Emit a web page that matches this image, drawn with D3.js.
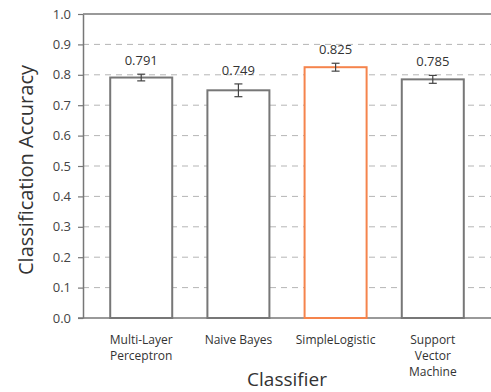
<!DOCTYPE html>
<html>
<head>
<meta charset="utf-8">
<script src="https://cdn.jsdelivr.net/npm/d3@7"></script>
<style>
  body { margin: 0; background: #fff; }
  text { font-family: "Open Sans", "Noto Sans", sans-serif; }
</style>
</head>
<body>
<div id="chart"></div>
<script>
// chart data
const classifiers = ["Multi-Layer Perceptron", "Naive Bayes", "SimpleLogistic", "Support Vector Machine"];
const tickLines = [["Multi-Layer", "Perceptron"], ["Naive Bayes"], ["SimpleLogistic"], ["Support", "Vector", "Machine"]];
const accuracy = [0.791, 0.749, 0.825, 0.785];
const errors = [0.011, 0.021, 0.013, 0.013];
const highlight = "SimpleLogistic";
const yTicks = [0.0, 0.1, 0.2, 0.3, 0.4, 0.5, 0.6, 0.7, 0.8, 0.9, 1.0];

const width = 491, height = 392;
const margin = { top: 14, right: 0, bottom: 74, left: 83 };

const svg = d3.select("#chart").append("svg")
    .attr("width", width)
    .attr("height", height);

const x = d3.scaleBand()
    .domain(classifiers)
    .range([margin.left, width - margin.right])
    .paddingInner(0.362)
    .paddingOuter(0.28);

const y = d3.scaleLinear()
    .domain([0, 1])
    .range([height - margin.bottom, margin.top]);

// dashed grid lines
svg.append("g")
    .selectAll("line")
    .data(yTicks.filter(t => t > 0 && t < 1))
    .enter().append("line")
    .attr("x1", margin.left)
    .attr("x2", width)
    .attr("y1", d => y(d))
    .attr("y2", d => y(d))
    .style("stroke", "#b5b5b5")
    .style("stroke-width", 1)
    .style("stroke-dasharray", "6,5");

// y axis
const yAxis = svg.append("g")
    .attr("transform", `translate(${margin.left},0)`)
    .call(d3.axisLeft(y).tickValues(yTicks).tickFormat(d3.format(".1f")).tickSize(5).tickSizeOuter(0));
yAxis.select(".domain").style("stroke", "#777").style("stroke-width", 1.5);
yAxis.selectAll(".tick line").style("stroke", "#777").style("stroke-width", 1.2);
yAxis.selectAll(".tick text")
    .attr("x", -12)
    .style("font-size", "13px")
    .style("fill", "#444");

// top frame
svg.append("line")
    .attr("x1", margin.left)
    .attr("x2", width)
    .attr("y1", y(1))
    .attr("y2", y(1))
    .style("stroke", "#777")
    .style("stroke-width", 1.5);

// bottom line
svg.append("line")
    .attr("x1", margin.left - 5)
    .attr("x2", width)
    .attr("y1", y(0))
    .attr("y2", y(0))
    .style("stroke", "#777")
    .style("stroke-width", 1.5);

// bars
svg.append("g")
    .selectAll("rect")
    .data(classifiers)
    .enter().append("rect")
    .attr("x", d => x(d))
    .attr("y", (d, i) => y(accuracy[i]))
    .attr("width", x.bandwidth())
    .attr("height", (d, i) => y(0) - y(accuracy[i]))
    .style("fill", "#fff")
    .style("stroke", d => d === highlight ? "#f5844c" : "#777")
    .style("stroke-width", 2);

// error bars
const err = svg.append("g")
    .selectAll("g")
    .data(classifiers)
    .enter().append("g")
    .attr("transform", d => `translate(${x(d) + x.bandwidth() / 2},0)`)
    .style("stroke", "#444")
    .style("stroke-width", 1.2);
err.append("line")
    .attr("y1", (d, i) => y(accuracy[i] - errors[i]))
    .attr("y2", (d, i) => y(accuracy[i] + errors[i]));
err.append("line")
    .attr("x1", -4).attr("x2", 4)
    .attr("y1", (d, i) => y(accuracy[i] + errors[i]))
    .attr("y2", (d, i) => y(accuracy[i] + errors[i]));
err.append("line")
    .attr("x1", -4).attr("x2", 4)
    .attr("y1", (d, i) => y(accuracy[i] - errors[i]))
    .attr("y2", (d, i) => y(accuracy[i] - errors[i]));

// value labels
svg.append("g")
    .selectAll("text")
    .data(classifiers)
    .enter().append("text")
    .attr("x", d => x(d) + x.bandwidth() / 2)
    .attr("y", (d, i) => y(accuracy[i] + errors[i]) - 9)
    .attr("text-anchor", "middle")
    .style("font-size", "13px")
    .style("fill", "#333")
    .text((d, i) => accuracy[i].toFixed(3));

// x tick labels
svg.append("g")
    .selectAll("text")
    .data(classifiers)
    .enter().append("text")
    .attr("x", d => x(d) + x.bandwidth() / 2)
    .attr("y", 344)
    .attr("text-anchor", "middle")
    .style("font-size", "12px")
    .style("fill", "#333")
    .each(function (d, i) {
        tickLines[i].forEach((line, j) => {
            d3.select(this).append("tspan")
                .attr("x", x(d) + x.bandwidth() / 2)
                .attr("dy", j === 0 ? 0 : 16)
                .text(line);
        });
    });

// axis titles
svg.append("text")
    .attr("x", 287)
    .attr("y", 386)
    .attr("text-anchor", "middle")
    .style("font-size", "19px")
    .style("fill", "#333")
    .text("Classifier");

svg.append("text")
    .attr("transform", `translate(33,${(margin.top + height - margin.bottom) / 2 + 4}) rotate(-90)`)
    .attr("text-anchor", "middle")
    .style("font-size", "20px")
    .style("fill", "#333")
    .text("Classification Accuracy");
</script>
</body>
</html>
